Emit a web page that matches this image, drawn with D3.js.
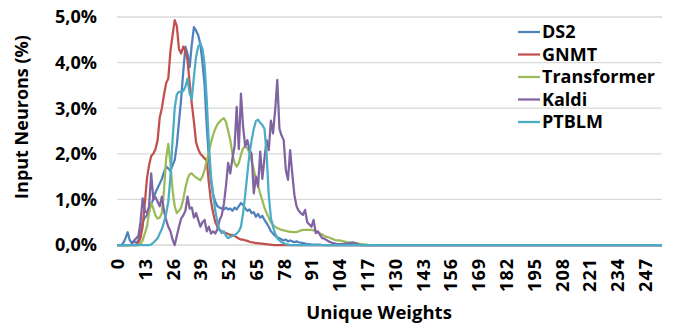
<!DOCTYPE html>
<html>
<head>
<meta charset="utf-8">
<script src="https://d3js.org/d3.v7.min.js"></script>
<style>
  body { margin: 0; background: #fff; }
  svg text { font-family: "Open Sans", "Liberation Sans", sans-serif; font-weight: bold; fill: #000; }
</style>
</head>
<body>
<div id="chart"></div>
<script>
// x categories: unique weights 0..255
var categories = d3.range(0, 256);
var xTickLabels = [0, 13, 26, 39, 52, 65, 78, 91, 104, 117, 130, 143, 156, 169, 182, 195, 208, 221, 234, 247];
var yTickValues = [0, 1, 2, 3, 4, 5];

// values in percent, one per category
var ds2 = [
  0,0,0,0.05,0.15,0.28,0.1,0.05,0.08,0.05,
  0.1,0.3,0.5,0.6,0.65,0.8,0.9,1.0,1.15,1.25,
  1.35,1.45,1.6,1.72,1.68,1.62,1.75,1.86,2.2,2.7,
  3.2,3.8,4.35,4.2,3.9,4.4,4.78,4.7,4.6,4.4,
  4.0,3.5,2.6,1.9,1.4,1.1,0.95,0.85,0.82,0.8,
  0.78,0.82,0.78,0.8,0.75,0.82,0.78,0.85,0.92,0.88,
  0.8,0.75,0.78,0.7,0.72,0.62,0.68,0.6,0.64,0.55,
  0.48,0.4,0.3,0.25,0.2,0.17,0.15,0.12,0.1,0.12,
  0.08,0.1,0.08,0.06,0.08,0.06,0.05,0.04,0.03,0.02,
  0.02,0.01,0.01,0.01,0.01,0.01,0,0,0,0,
  0,0,0,0,0,0,0,0,0,0,
  0,0,0,0,0,0,0,0,0,0,
  0,0,0,0,0,0,0,0,0,0,0,0,0,0,0,0,0,
  0,0,0,0,0,0,0,0,0,0,0,0,0,0,0,0,0,
  0,0,0,0,0,0,0,0,0,0,0,0,0,0,0,0,0,
  0,0,0,0,0,0,0,0,0,0,0,0,0,0,0,0,0,
  0,0,0,0,0,0,0,0,0,0,0,0,0,0,0,0,0,
  0,0,0,0,0,0,0,0,0,0,0,0,0,0,0,0,0,
  0,0,0,0,0,0,0,0,0,0,0,0,0,0,0,0,0,
  0,0,0,0,0,0,0,0,0,0,0,0,0,0,0,0,0
];

var gnmt = [
  0,0,0,0,0,0,0,0,0,0,
  0.05,0.15,0.4,0.9,1.45,1.75,1.95,2.0,2.1,2.3,
  2.8,3.0,3.3,3.55,3.65,4.25,4.6,4.93,4.8,4.3,
  4.2,4.35,4.25,4.05,3.55,3.1,2.7,2.25,2.1,2.0,
  1.95,1.9,1.85,1.35,0.95,0.7,0.5,0.4,0.33,0.3,
  0.27,0.26,0.24,0.22,0.22,0.2,0.17,0.14,0.12,0.12,
  0.1,0.09,0.07,0.06,0.05,0.04,0.04,0.03,0.03,0.02,
  0.02,0.01,0.01,0,0,0,0,0,0,0,
  0,0,0,0,0,0,0,0,0,0,
  0,0,0,0,0,0,0,0,0,0,
  0,0,0,0,0,0,0,0,0,0,
  0,0,0,0,0,0,0,0,0,0,
  0,0,0,0,0,0,0,0,0,0,0,0,0,0,0,0,0,
  0,0,0,0,0,0,0,0,0,0,0,0,0,0,0,0,0,
  0,0,0,0,0,0,0,0,0,0,0,0,0,0,0,0,0,
  0,0,0,0,0,0,0,0,0,0,0,0,0,0,0,0,0,
  0,0,0,0,0,0,0,0,0,0,0,0,0,0,0,0,0,
  0,0,0,0,0,0,0,0,0,0,0,0,0,0,0,0,0,
  0,0,0,0,0,0,0,0,0,0,0,0,0,0,0,0,0,
  0,0,0,0,0,0,0,0,0,0,0,0,0,0,0,0,0
];

var transformer = [
  0,0,0,0,0,0,0,0,0,0,
  0,0.02,0.1,0.25,0.4,0.7,0.92,0.8,0.65,0.58,
  0.6,0.7,1.2,1.9,2.22,1.8,1.2,0.85,0.7,0.75,
  0.82,1.0,1.25,1.45,1.55,1.57,1.52,1.48,1.45,1.42,
  1.5,1.65,1.85,2.05,2.25,2.42,2.55,2.65,2.7,2.75,
  2.78,2.7,2.5,2.3,2.0,1.8,1.72,1.8,1.98,2.12,
  2.16,2.12,2.02,1.85,1.65,1.45,1.3,1.13,0.98,0.82,
  0.7,0.6,0.5,0.44,0.4,0.37,0.35,0.33,0.32,0.31,
  0.3,0.29,0.29,0.28,0.28,0.3,0.32,0.33,0.33,0.33,
  0.33,0.33,0.32,0.3,0.28,0.25,0.23,0.2,0.18,0.17,
  0.15,0.13,0.11,0.1,0.1,0.09,0.08,0.07,0.06,0.05,
  0.05,0.04,0.04,0.03,0.02,0.02,0.01,0.01,0,0,
  0,0,0,0,0,0,0,0,0,0,0,0,0,0,0,0,0,
  0,0,0,0,0,0,0,0,0,0,0,0,0,0,0,0,0,
  0,0,0,0,0,0,0,0,0,0,0,0,0,0,0,0,0,
  0,0,0,0,0,0,0,0,0,0,0,0,0,0,0,0,0,
  0,0,0,0,0,0,0,0,0,0,0,0,0,0,0,0,0,
  0,0,0,0,0,0,0,0,0,0,0,0,0,0,0,0,0,
  0,0,0,0,0,0,0,0,0,0,0,0,0,0,0,0,0,
  0,0,0,0,0,0,0,0,0,0,0,0,0,0,0,0,0
];

var kaldi = [
  0,0,0,0,0,0,0,0.02,0.1,0.15,
  0.2,0.5,1.02,0.75,0.7,0.85,1.57,1.0,1.05,0.95,
  0.85,1.06,0.75,0.55,0.4,0.3,0.12,0,0.2,0.4,
  0.58,0.65,0.75,1.06,0.8,0.82,0.6,0.7,0.55,0.4,
  0.5,0.55,0.3,0.4,0.25,0.3,0.25,0.35,0.55,0.65,
  0.9,1.3,1.8,1.57,1.9,2.16,3.03,2.1,3.32,2.59,
  2.16,2.3,2.08,2.0,1.13,1.5,1.28,2.05,1.45,1.9,
  2.3,2.08,2.73,2.45,2.96,3.62,2.55,2.4,2.3,1.64,
  1.43,2.08,1.57,1.1,0.85,0.75,0.7,0.66,0.77,0.5,
  0.45,0.4,0.55,0.26,0.3,0.22,0.15,0.14,0.11,0.08,
  0.06,0.04,0.03,0.02,0.02,0.02,0.02,0.03,0.03,0.04,
  0.05,0.05,0.03,0.01,0,0,0,0,0,0,
  0,0,0,0,0,0,0,0,0,0,0,0,0,0,0,0,0,
  0,0,0,0,0,0,0,0,0,0,0,0,0,0,0,0,0,
  0,0,0,0,0,0,0,0,0,0,0,0,0,0,0,0,0,
  0,0,0,0,0,0,0,0,0,0,0,0,0,0,0,0,0,
  0,0,0,0,0,0,0,0,0,0,0,0,0,0,0,0,0,
  0,0,0,0,0,0,0,0,0,0,0,0,0,0,0,0,0,
  0,0,0,0,0,0,0,0,0,0,0,0,0,0,0,0,0,
  0,0,0,0,0,0,0,0,0,0,0,0,0,0,0,0,0
];

var ptblm = [
  0,0,0,0,0,0,0,0,0,0,
  0,0,0,0,0,0,0.01,0.05,0.1,0.15,
  0.25,0.35,0.5,0.69,0.95,1.5,2.3,3.0,3.3,3.36,
  3.36,3.38,3.47,3.65,3.32,3.2,3.7,4.13,4.35,4.42,
  4.3,3.95,3.18,2.2,1.5,1.1,0.75,0.5,0.33,0.26,
  0.3,0.2,0.15,0.18,0.2,0.22,0.25,0.3,0.4,0.7,
  1.1,1.57,2.0,2.3,2.55,2.72,2.75,2.68,2.63,2.55,
  2.0,1.1,0.6,0.4,0.25,0.15,0.1,0.06,0.04,0.02,
  0.01,0,0,0,0,0,0,0,0,0,
  0,0,0,0,0,0,0,0,0,0,
  0,0,0,0,0,0,0,0,0,0,
  0,0,0,0,0,0,0,0,0,0,
  0,0,0,0,0,0,0,0,0,0,0,0,0,0,0,0,0,
  0,0,0,0,0,0,0,0,0,0,0,0,0,0,0,0,0,
  0,0,0,0,0,0,0,0,0,0,0,0,0,0,0,0,0,
  0,0,0,0,0,0,0,0,0,0,0,0,0,0,0,0,0,
  0,0,0,0,0,0,0,0,0,0,0,0,0,0,0,0,0,
  0,0,0,0,0,0,0,0,0,0,0,0,0,0,0,0,0,
  0,0,0,0,0,0,0,0,0,0,0,0,0,0,0,0,0,
  0,0,0,0,0,0,0,0,0,0,0,0,0,0,0,0,0
];

var seriesNames = ["DS2", "GNMT", "Transformer", "Kaldi", "PTBLM"];
var seriesColors = ["#4F81BD", "#C0504D", "#9BBB59", "#8064A2", "#4BACC6"];

var series = [ds2, gnmt, transformer, kaldi, ptblm].map(function(values, i) {
  return { name: seriesNames[i], color: seriesColors[i], values: values };
});

var width = 681, height = 325;
var plot = { left: 117, right: 662, top: 17, bottom: 245 };

var svg = d3.select("#chart")
  .append("svg")
  .attr("width", width)
  .attr("height", height);

var x = d3.scaleLinear()
  .domain([categories[0], categories[categories.length - 1]])
  .range([plot.left, plot.right]);

var y = d3.scaleLinear()
  .domain([0, 5])
  .range([plot.bottom, plot.top]);

// horizontal gridlines
svg.append("g")
  .selectAll("line")
  .data(yTickValues)
  .enter()
  .append("line")
  .attr("x1", plot.left)
  .attr("x2", plot.right)
  .attr("y1", function(d) { return y(d); })
  .attr("y2", function(d) { return y(d); })
  .attr("stroke", "#D9D9D9")
  .attr("stroke-width", 1.3);

// y tick labels
svg.append("g")
  .selectAll("text")
  .data(yTickValues)
  .enter()
  .append("text")
  .attr("x", 97)
  .attr("y", function(d) { return y(d); })
  .attr("dy", "0.36em")
  .attr("text-anchor", "end")
  .style("font-size", "18px")
  .text(function(d) { return d.toFixed(1).replace(".", ",") + "%"; });

// x tick labels (rotated)
svg.append("g")
  .selectAll("text")
  .data(xTickLabels)
  .enter()
  .append("text")
  .attr("transform", function(d) { return "translate(" + (x(d) + 0.5) + ",258) rotate(-90)"; })
  .attr("dy", "0.36em")
  .attr("text-anchor", "end")
  .style("font-size", "18px")
  .style("letter-spacing", "1px")
  .text(function(d) { return d; });

// lines
var line = d3.line()
  .x(function(d, i) { return x(categories[i]); })
  .y(function(d) { return y(d); });

series.forEach(function(s) {
  svg.append("path")
    .datum(s.values)
    .attr("fill", "none")
    .attr("stroke", s.color)
    .attr("stroke-width", 2.25)
    .attr("stroke-linejoin", "round")
    .attr("d", line);
});

// axis titles
svg.append("text")
  .attr("transform", "translate(28,117) rotate(-90)")
  .attr("text-anchor", "middle")
  .style("font-size", "18px")
  .text("Input Neurons (%)");

svg.append("text")
  .attr("x", 379)
  .attr("y", 319)
  .attr("text-anchor", "middle")
  .style("font-size", "18.5px")
  .text("Unique Weights");

// legend
var legend = svg.selectAll(".legend")
  .data(series)
  .enter()
  .append("g")
  .attr("class", "legend")
  .attr("transform", function(d, i) { return "translate(518," + (32 + i * 22.5) + ")"; });

legend.append("line")
  .attr("x1", 0)
  .attr("x2", 22)
  .attr("stroke", function(d) { return d.color; })
  .attr("stroke-width", 2.25);

legend.append("text")
  .attr("x", 24)
  .attr("dy", "0.36em")
  .style("font-size", "18px")
  .text(function(d) { return d.name; });
</script>
</body>
</html>
